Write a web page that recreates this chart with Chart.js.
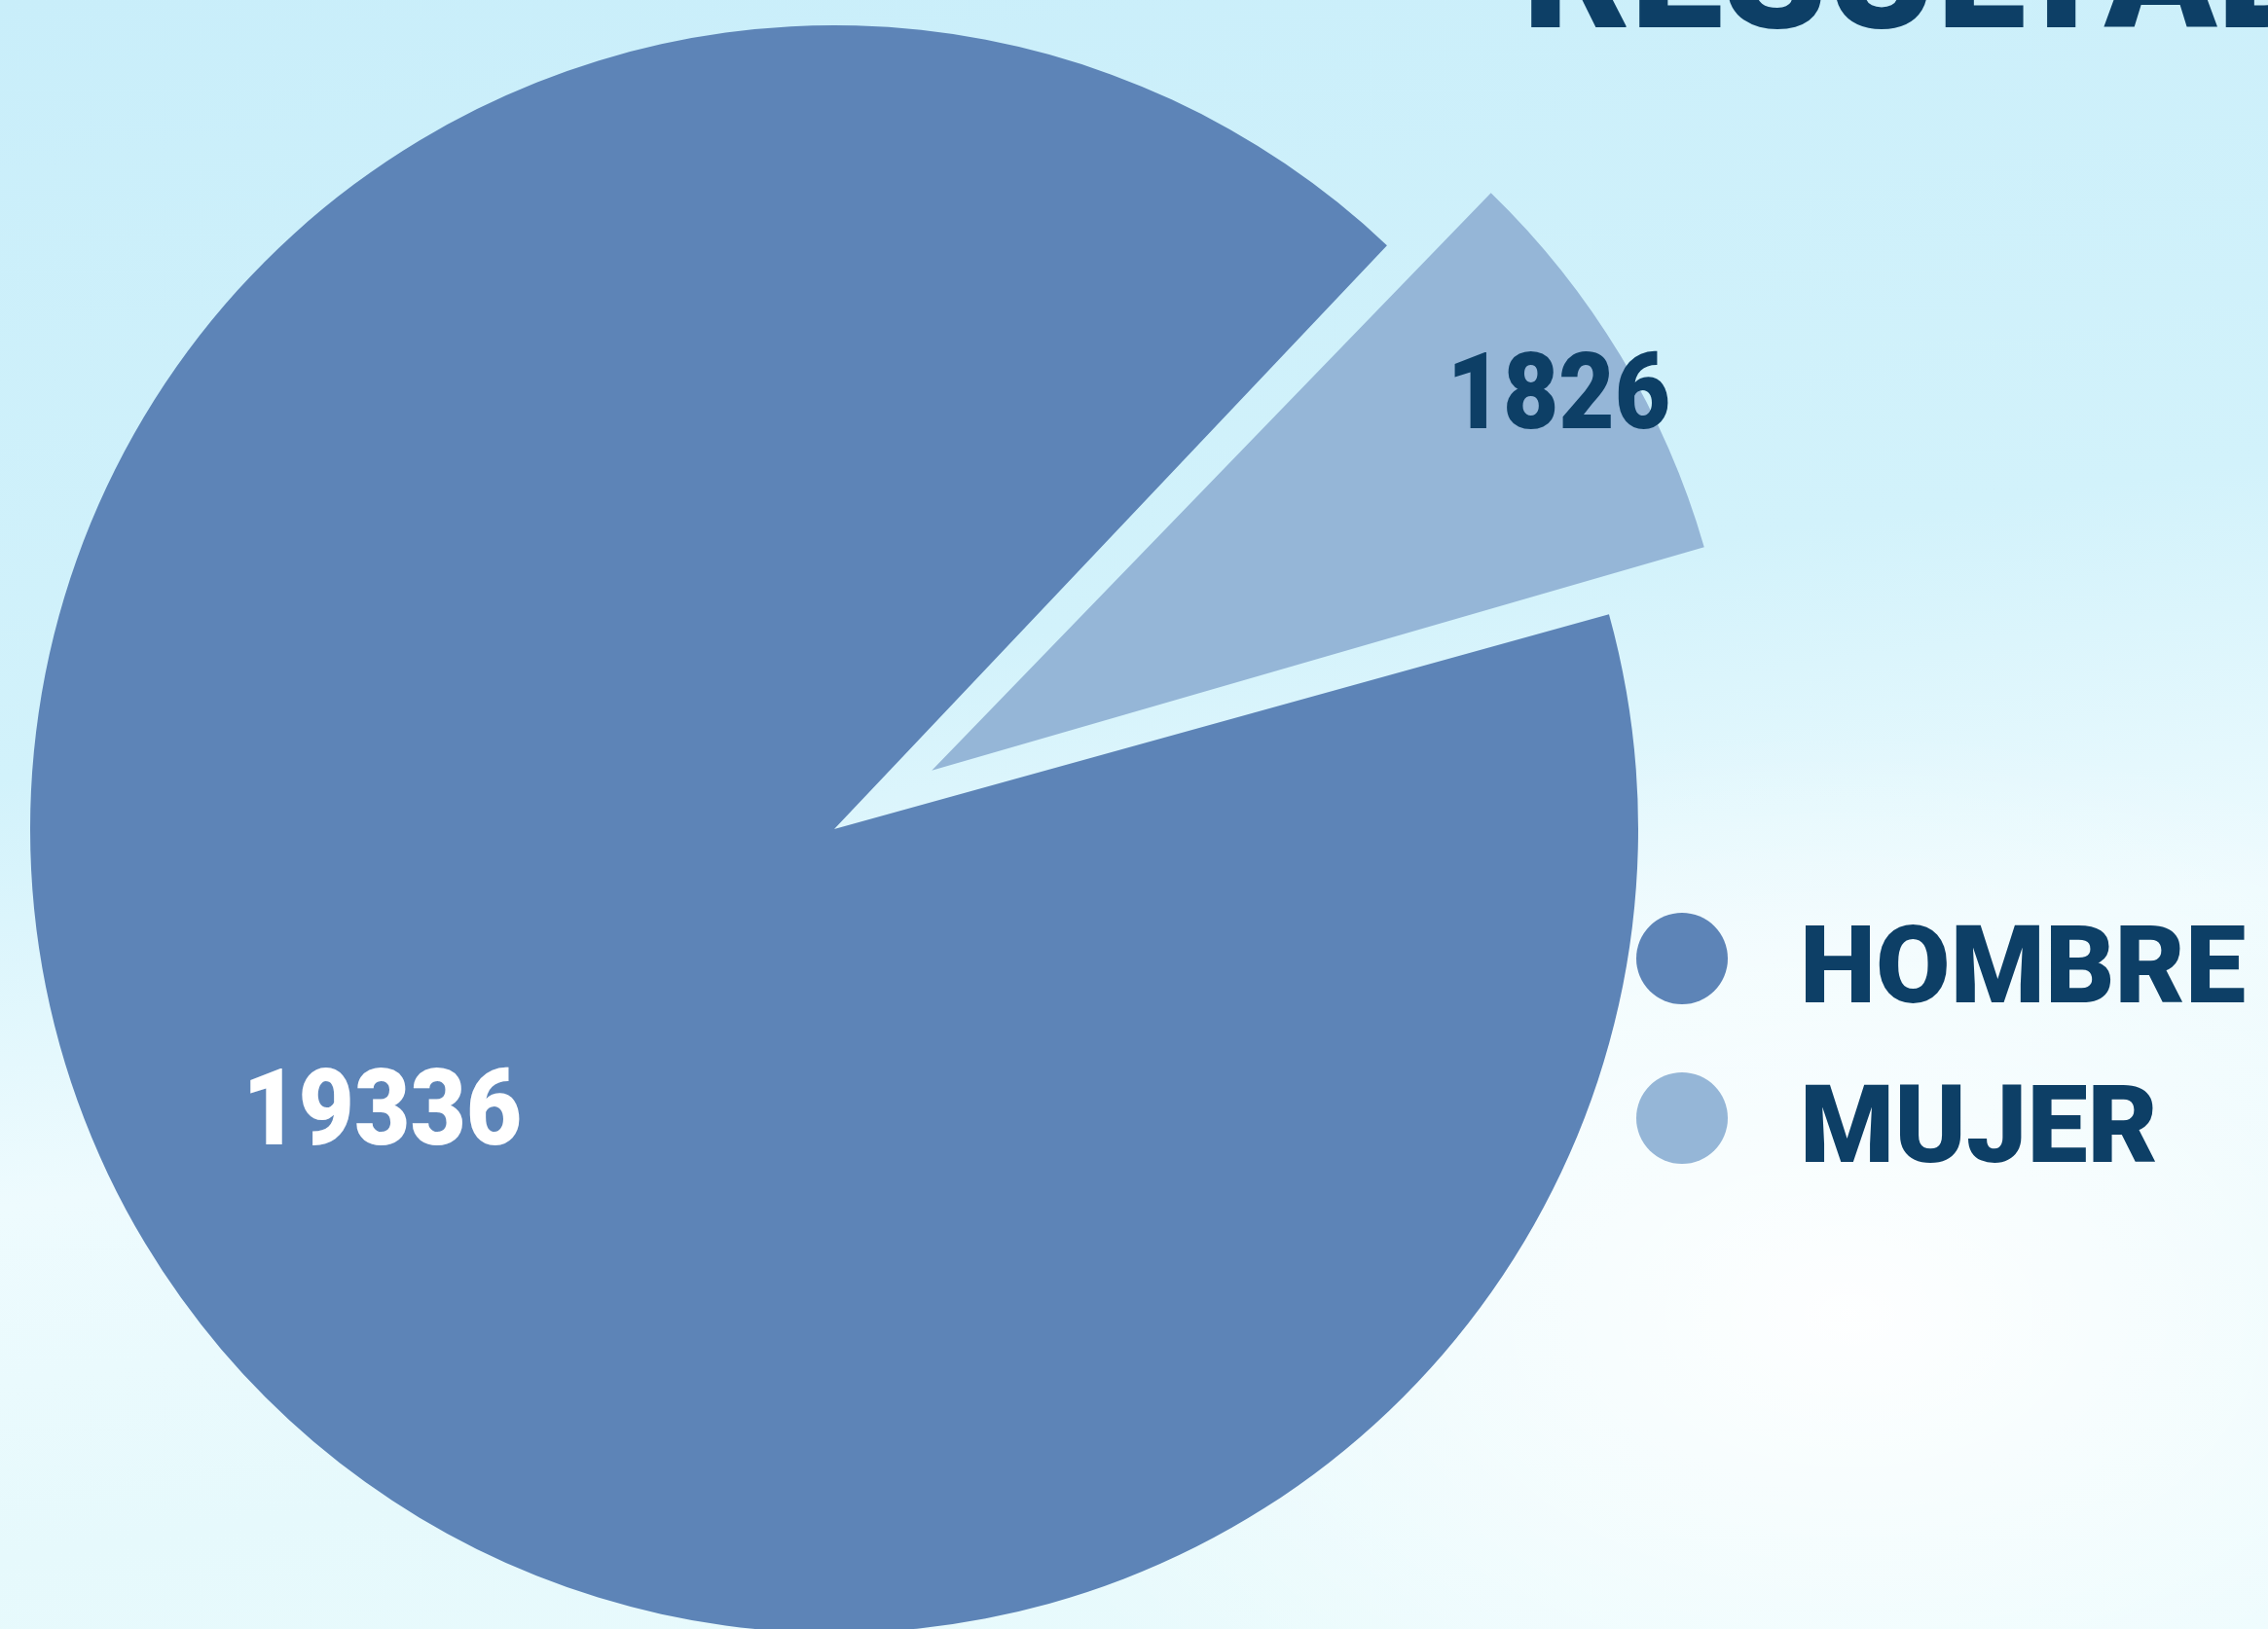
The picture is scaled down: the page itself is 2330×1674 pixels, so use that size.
<!DOCTYPE html>
<html>
<head>
<meta charset="utf-8">
<script src="https://cdn.jsdelivr.net/npm/chart.js@4.4.1/dist/chart.umd.min.js"></script>
<style>
    html, body {
        margin: 0;
        padding: 0;
        width: 2330px;
        height: 1674px;
        overflow: hidden;
    }
    body {
        position: relative;
        font-family: Roboto, "Open Sans", sans-serif;
        background:
            radial-gradient(ellipse 900px 600px at 1900px 1350px, rgba(255,255,255,0.95), rgba(255,255,255,0) 100%),
            linear-gradient(172deg, #c9eefa 0%, #d2f2fb 40%, #eefbfe 62%, #e6f9fc 80%, #e9fbfd 100%);
    }
    #chart {
        position: absolute;
        left: 0;
        top: 0;
    }
    .title {
        position: absolute;
        left: 1564px;
        top: -115px;
        font-size: 170px;
        font-weight: 900;
        line-height: 1;
        color: #0d3f66;
        white-space: nowrap;
    }
    .legend {
        position: absolute;
        left: 1681px;
        top: 0;
    }
    .legend-item {
        position: absolute;
        left: 0;
        white-space: nowrap;
    }
    .legend-dot {
        position: absolute;
        left: 0;
        top: 0;
        width: 94px;
        height: 94px;
        border-radius: 50%;
    }
    .legend-text {
        position: absolute;
        left: 168px;
        top: -1px;
        font-size: 111px;
        font-weight: 900;
        line-height: 1;
        color: #0d3f66;
    }
</style>
</head>
<body>
<div class="title">RESULTADOS</div>
<canvas id="chart" width="2330" height="1674"></canvas>
<div class="legend" id="legend"></div>
<script>
// Datos del gráfico
const labels = ['HOMBRE', 'MUJER'];
const values = [19336, 1826];
const colors = ['#5d84b7', '#95b6d7'];
const labelColors = ['#ffffff', '#0d3f66'];

// Radio del pastel y separación del sector MUJER
const pieRadius = 826;
const sliceOffsets = [0, 468];

// Corregir el radio del sector desplazado (Chart.js lo agranda al desplazarlo)
const fixOffsetRadius = {
    id: 'fixOffsetRadius',
    afterDatasetsUpdate(chart) {
        const meta = chart.getDatasetMeta(0);
        meta.data.forEach((arc) => {
            const shift = (arc.options.offset || 0) / 4;
            const fix = 1 - Math.sin(Math.min(Math.PI, arc.circumference || 0));
            arc.outerRadius = pieRadius - shift * fix;
        });
    }
};

// Etiquetas de valor dentro de cada sector
const sliceLabels = {
    id: 'sliceLabels',
    afterDatasetsDraw(chart, args, opts) {
        const ctx = chart.ctx;
        const meta = chart.getDatasetMeta(0);
        meta.data.forEach((arc, i) => {
            const mid = (arc.startAngle + arc.endAngle) / 2;
            const shift = (arc.options.offset || 0) / 4;
            const r = pieRadius * opts.radial[i] + shift;
            const x = arc.x + Math.cos(mid) * r;
            const y = arc.y + Math.sin(mid) * r + opts.dy[i];
            ctx.save();
            ctx.font = '900 ' + opts.size + 'px Roboto';
            ctx.fillStyle = labelColors[i];
            ctx.textAlign = 'center';
            ctx.textBaseline = 'middle';
            ctx.translate(x, y);
            ctx.scale(opts.squeeze, 1);
            ctx.fillText(String(values[i]), 0, 0);
            ctx.restore();
        });
    }
};

const canvas = document.getElementById('chart');
const chart = new Chart(canvas, {
    type: 'pie',
    data: {
        labels: labels,
        datasets: [{
            data: values,
            backgroundColor: colors,
            borderWidth: 0,
            offset: sliceOffsets,
            hoverOffset: 0,
            radius: pieRadius,
            clip: false
        }]
    },
    options: {
        responsive: false,
        animation: false,
        devicePixelRatio: 1,
        rotation: 74.5,
        layout: {
            padding: { left: 0, right: 616, top: 30, bottom: 0 }
        },
        events: [],
        plugins: {
            legend: { display: false },
            tooltip: { enabled: false },
            sliceLabels: {
                radial: [0.656, 0.91],
                dy: [17, 8],
                size: 110,
                squeeze: 0.9
            }
        }
    },
    plugins: [fixOffsetRadius, sliceLabels]
});

// Leyenda
const legend = document.getElementById('legend');
const legendTops = [938, 1102];
labels.forEach((name, i) => {
    const item = document.createElement('div');
    item.className = 'legend-item';
    item.style.top = legendTops[i] + 'px';
    const dot = document.createElement('div');
    dot.className = 'legend-dot';
    dot.style.background = colors[i];
    const text = document.createElement('div');
    text.className = 'legend-text';
    text.textContent = name;
    item.appendChild(dot);
    item.appendChild(text);
    legend.appendChild(item);
});
</script>
</body>
</html>
